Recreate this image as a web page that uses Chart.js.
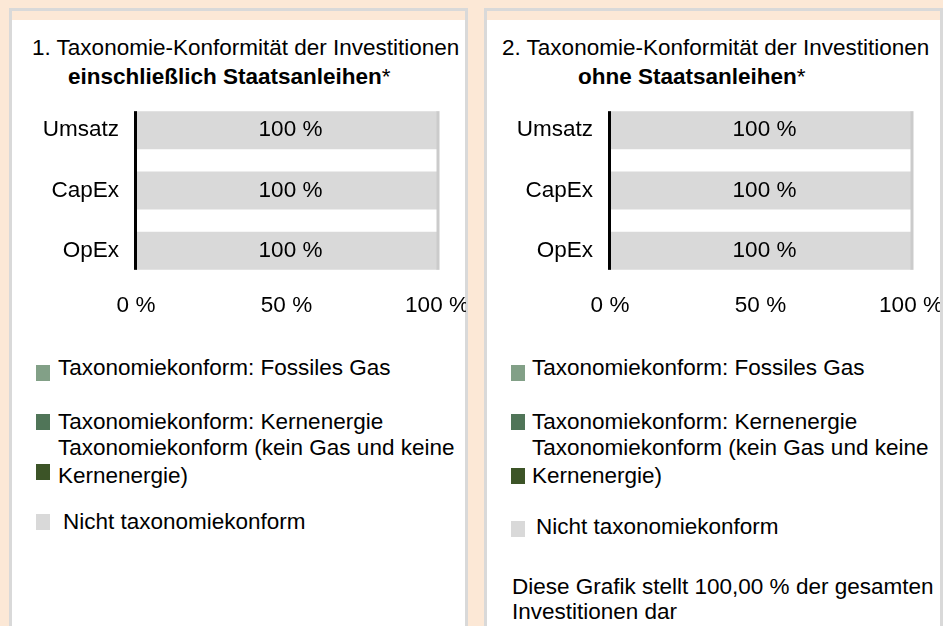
<!DOCTYPE html>
<html lang="de">
<head>
<meta charset="utf-8">
<title>Taxonomie-Konformität</title>
<script src="https://cdn.jsdelivr.net/npm/chart.js@4.4.1/dist/chart.umd.min.js"></script>
<style>
  body {
    margin: 0;
    width: 943px;
    height: 626px;
    overflow: hidden;
    position: relative;
    background: #FCE8D6;
    font-family: "Liberation Sans", Arial, sans-serif;
    color: #000;
  }
  .frame {
    position: absolute;
    top: 8px;
    width: 459px;
    height: 700px;
    box-sizing: border-box;
    border: 3px solid #D9D9D9;
    border-bottom: none;
    background: #FCE8D6;
  }
  .frame .inner {
    position: absolute;
    top: 9px;
    left: 0;
    right: 0;
    bottom: 0;
    background: #fff;
  }
  .t {
    position: absolute;
    font-size: 22.5px;
    line-height: 28px;
    white-space: nowrap;
  }
  canvas { position: absolute; top: 90px; }
  .lg-item {
    position: absolute;
    display: flex;
    align-items: flex-end;
    font-size: 22.5px;
    line-height: 28px;
  }
  .lg-box { width: 14px; height: 16px; flex: none; margin-right: 8px; }
  .lg-text { width: 422px; }
  .note {
    position: absolute;
    left: 512px;
    top: 574px;
    width: 440px;
    font-size: 22.5px;
    line-height: 25px;
  }
</style>
</head>
<body>
<div class="frame" style="left:9px"><div class="inner"></div></div>
<div class="frame" style="left:484px"><div class="inner"></div></div>

<div class="t" style="left:32px;top:34px">1. Taxonomie-Konformität der Investitionen</div>
<div class="t" style="left:68px;top:63px"><b>einschließlich Staatsanleihen</b>*</div>
<div class="t" style="left:502px;top:34px">2. Taxonomie-Konformität der Investitionen</div>
<div class="t" style="left:578px;top:63px"><b>ohne Staatsanleihen</b>*</div>

<canvas id="chart1" width="454" height="240" style="left:12px"></canvas>
<canvas id="chart2" width="454" height="240" style="left:486px"></canvas>

<div id="legend1"></div>
<div id="legend2"></div>

<div class="note">Diese Grafik stellt 100,00 % der gesamten Investitionen dar</div>

<script>
// ---- Daten ----
const categories = ["Umsatz", "CapEx", "OpEx"];
const seriesLabels = [
  "Taxonomiekonform: Fossiles Gas",
  "Taxonomiekonform: Kernenergie",
  "Taxonomiekonform (kein Gas und keine Kernenergie)",
  "Nicht taxonomiekonform",
];
const xTickValues = [0, 50, 100];

// Grafik 1: einschließlich Staatsanleihen
const gas1 = [0, 0, 0];
const nuclear1 = [0, 0, 0];
const otherAligned1 = [0, 0, 0];
const notAligned1 = [100, 100, 100];

// Grafik 2: ohne Staatsanleihen
const gas2 = [0, 0, 0];
const nuclear2 = [0, 0, 0];
const otherAligned2 = [0, 0, 0];
const notAligned2 = [100, 100, 100];

const seriesColors = ["#82A087", "#507558", "#3C5427", "#D9D9D9"];

Chart.defaults.font.family = '"Liberation Sans", Arial, sans-serif';
Chart.defaults.font.size = 22.5;
Chart.defaults.color = "#000";

// Werte in den Balken ("100 %")
const barLabels = {
  id: "barLabels",
  afterDatasetsDraw(chart) {
    const ctx = chart.ctx;
    ctx.save();
    ctx.font = '22.5px "Liberation Sans", Arial, sans-serif';
    ctx.fillStyle = "#000";
    ctx.textAlign = "center";
    ctx.textBaseline = "middle";
    chart.data.datasets.forEach((ds, i) => {
      chart.getDatasetMeta(i).data.forEach((bar, j) => {
        const v = ds.data[j];
        if (!v) return;
        const p = bar.getProps(["x", "y", "base"], true);
        ctx.fillText(v + " %", (p.x + p.base) / 2 + 4, p.y);
      });
    });
    ctx.restore();
  },
};

// Achsenlinie bei 0 % und Linie bei 100 %, nur über die Höhe der Balken
const axisLines = {
  id: "axisLines",
  afterDatasetsDraw(chart) {
    const bars = chart.getDatasetMeta(0).data;
    if (!bars.length) return;
    const first = bars[0].getProps(["y", "height"], true);
    const last = bars[bars.length - 1].getProps(["y", "height"], true);
    const top = first.y - first.height / 2;
    const bottom = last.y + last.height / 2;
    const xs = chart.scales.x;
    const ctx = chart.ctx;
    ctx.save();
    ctx.lineWidth = 3;
    ctx.strokeStyle = "#CBCBCB";
    ctx.beginPath();
    ctx.moveTo(xs.getPixelForValue(100) + 1, top);
    ctx.lineTo(xs.getPixelForValue(100) + 1, bottom);
    ctx.stroke();
    ctx.strokeStyle = "#000";
    ctx.beginPath();
    ctx.moveTo(xs.getPixelForValue(0) - 0.5, top);
    ctx.lineTo(xs.getPixelForValue(0) - 0.5, bottom);
    ctx.stroke();
    ctx.restore();
  },
};

function makeChart(id, seriesData) {
  return new Chart(document.getElementById(id), {
    type: "bar",
    data: {
      labels: categories,
      datasets: seriesData.map((d, i) => ({
        label: seriesLabels[i],
        data: d,
        backgroundColor: seriesColors[i],
        borderWidth: 0,
        categoryPercentage: 1,
        barPercentage: 0.63,
      })),
    },
    options: {
      indexAxis: "y",
      responsive: false,
      animation: false,
      layout: { padding: { top: 10, right: 29, left: 0, bottom: 0 } },
      scales: {
        x: {
          stacked: true,
          min: 0,
          max: 100,
          grid: { display: false, drawTicks: false },
          border: { display: false },
          afterBuildTicks: (scale) => {
            scale.ticks = xTickValues.map((v) => ({ value: v }));
          },
          ticks: { padding: 11, maxRotation: 0, callback: (v) => v + " %" },
          afterFit: (scale) => {
            scale.height = 49;
            scale.paddingLeft = 0;
            scale.paddingRight = 0;
          },
        },
        y: {
          stacked: true,
          grid: { display: false, drawTicks: false },
          border: { display: false },
          ticks: { padding: 17 },
          afterFit: (scale) => {
            scale.width = 124;
            scale.paddingTop = 0;
            scale.paddingBottom = 0;
          },
        },
      },
      plugins: {
        legend: { display: false },
        tooltip: { enabled: false },
      },
    },
    plugins: [barLabels, axisLines],
  });
}

const chart1 = makeChart("chart1", [gas1, nuclear1, otherAligned1, notAligned1]);
const chart2 = makeChart("chart2", [gas2, nuclear2, otherAligned2, notAligned2]);

// HTML-Legende aus den Datensätzen
const legendLayouts = {
  legend1: { boxLeft: 36, gap: 8, tops: [354, 408, 434, 508], boxLift: [1.5, 6, 10.5, 6], extraIndent: [0, 0, 0, 5] },
  legend2: { boxLeft: 511, gap: 7, tops: [354, 408, 434, 513], boxLift: [1.5, 6, 6, 4.5], extraIndent: [0, 0, 0, 4] },
};

function buildLegend(containerId, chart) {
  const lay = legendLayouts[containerId];
  const box = document.getElementById(containerId);
  chart.data.datasets.forEach((ds, i) => {
    const item = document.createElement("div");
    item.className = "lg-item";
    item.style.left = lay.boxLeft + "px";
    item.style.top = lay.tops[i] + "px";
    const sw = document.createElement("span");
    sw.className = "lg-box";
    sw.style.background = ds.backgroundColor;
    sw.style.marginBottom = lay.boxLift[i] + "px";
    sw.style.marginRight = lay.gap + lay.extraIndent[i] + "px";
    const txt = document.createElement("span");
    txt.className = "lg-text";
    txt.textContent = ds.label;
    item.appendChild(sw);
    item.appendChild(txt);
    box.appendChild(item);
  });
}

buildLegend("legend1", chart1);
buildLegend("legend2", chart2);
</script>
</body>
</html>
